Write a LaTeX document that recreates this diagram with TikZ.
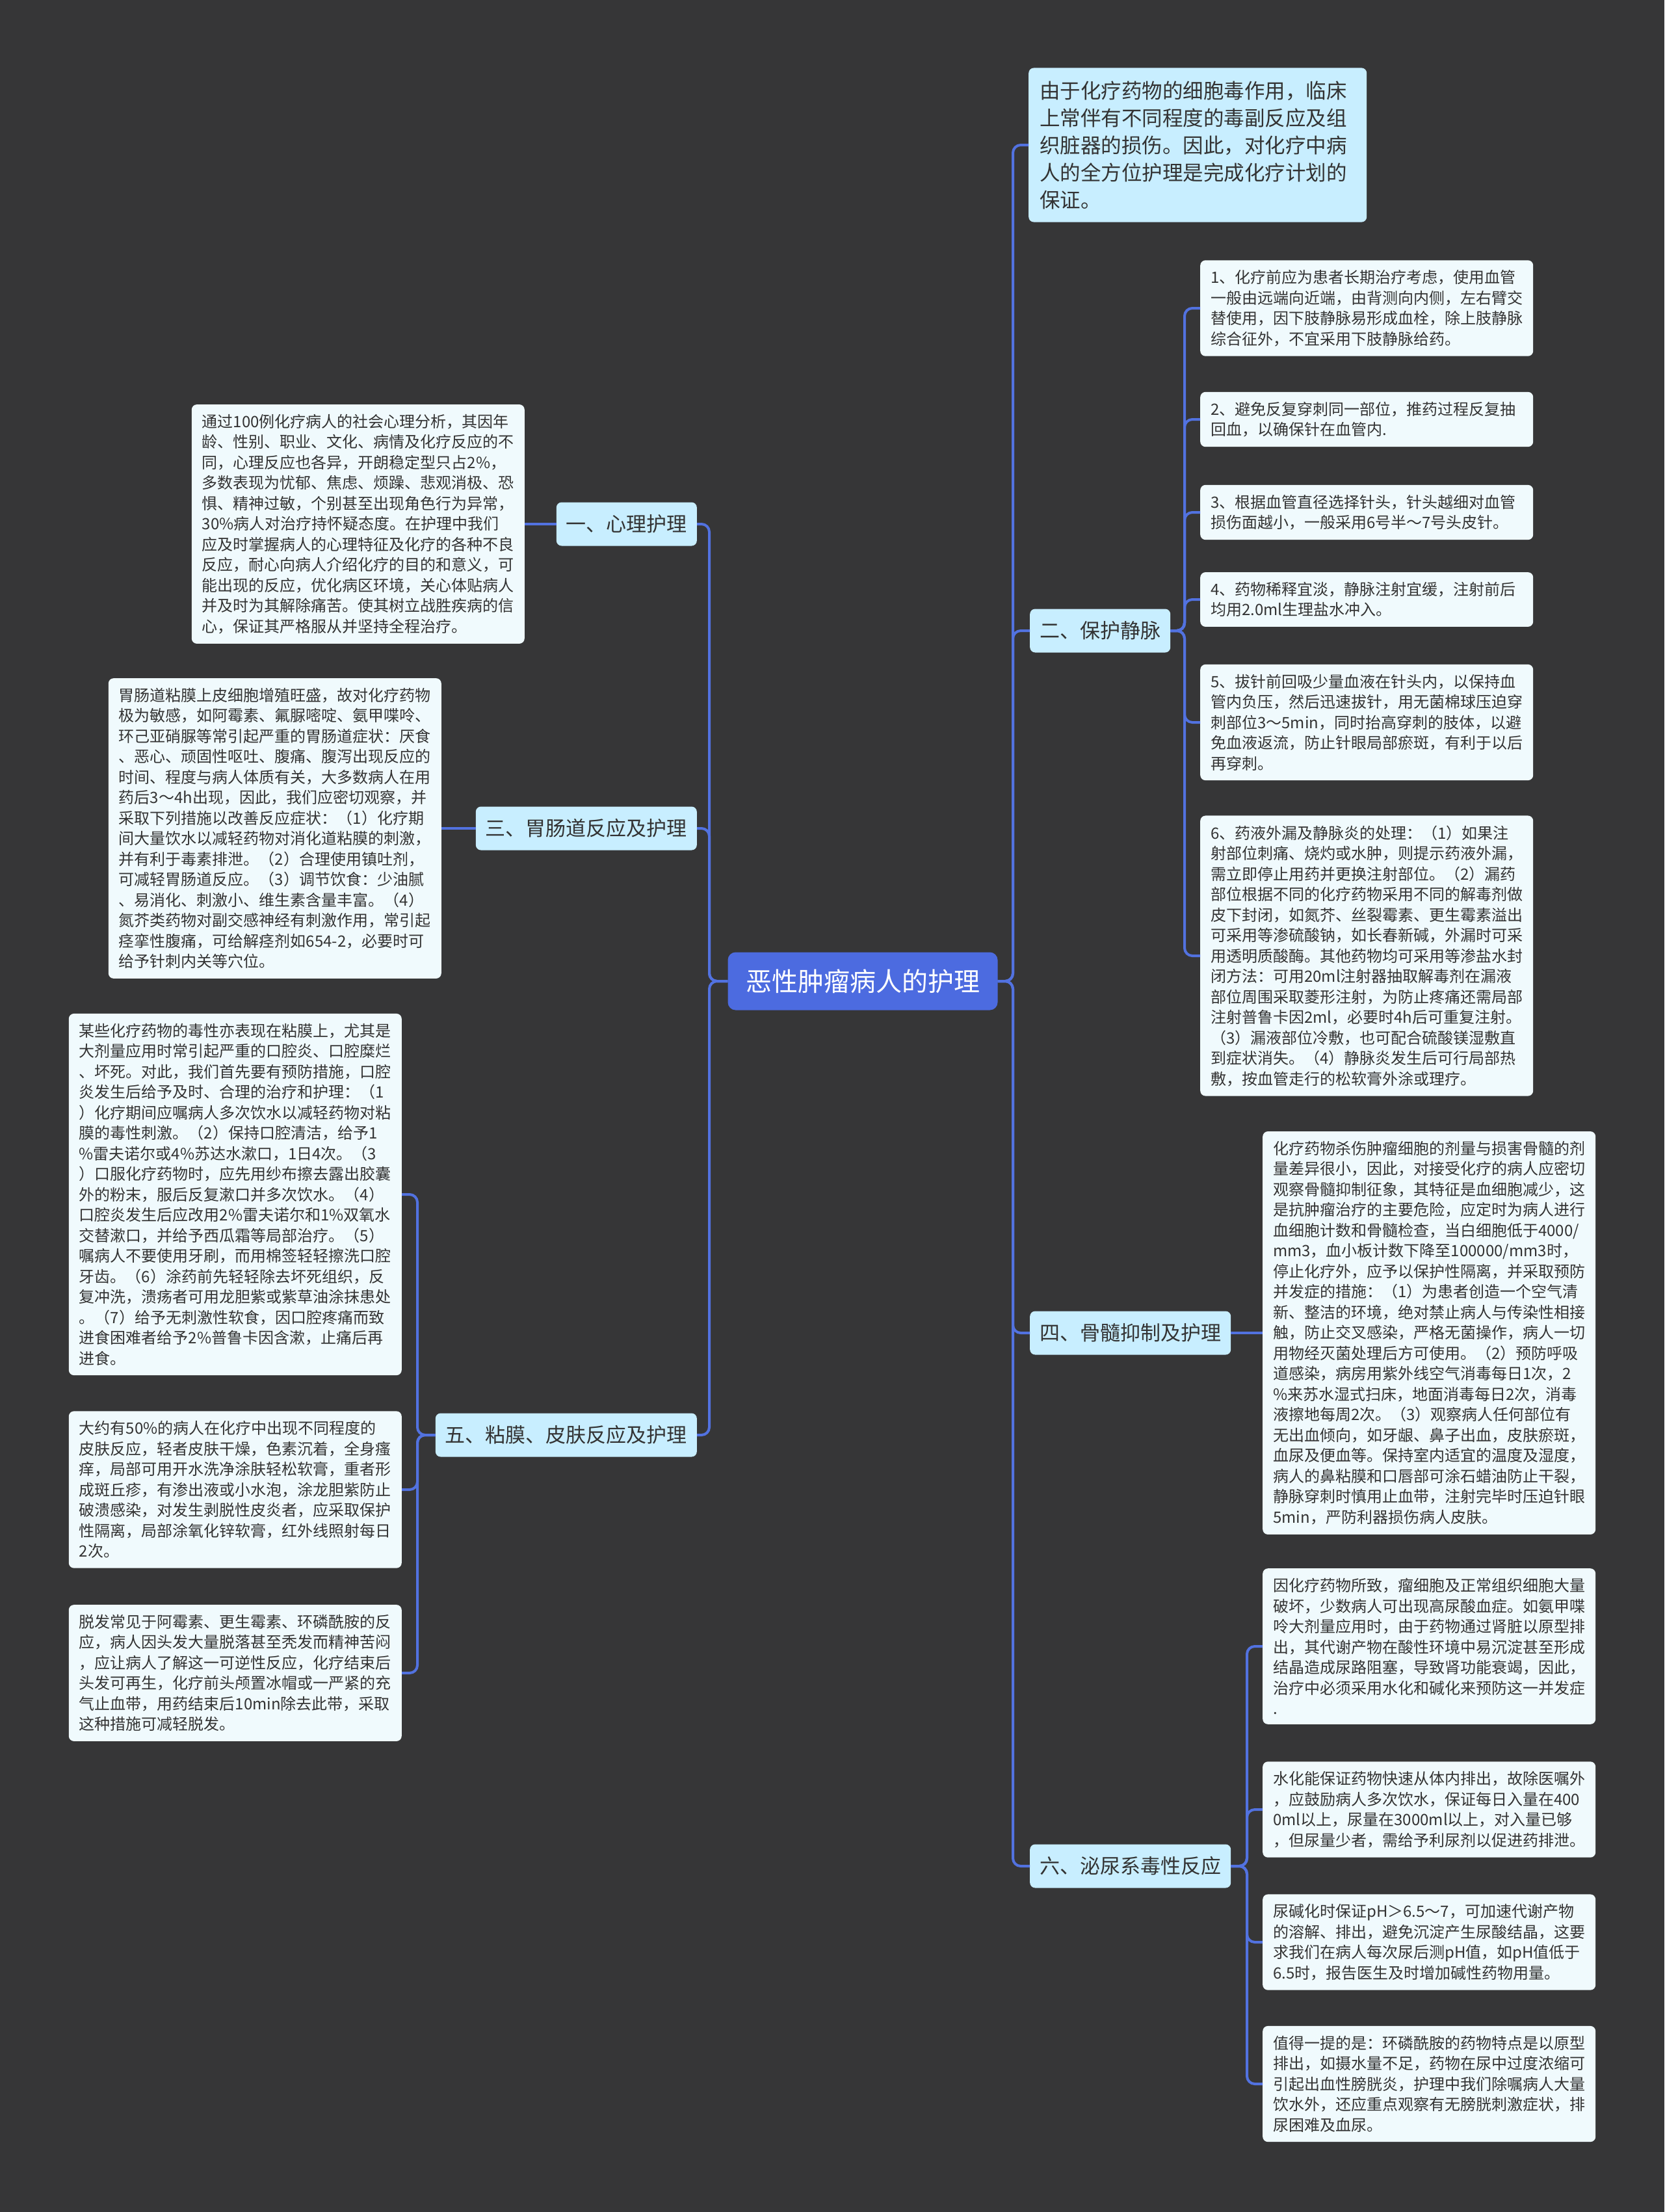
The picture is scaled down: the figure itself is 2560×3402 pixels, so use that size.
\documentclass[tikz,border=0pt]{standalone}
\usepackage{fontspec}
\newfontfamily\cjk{Noto Sans CJK SC}
\usepackage{tikz}
\definecolor{canvas}{HTML}{363637}
\definecolor{linkblue}{HTML}{5272E0}
\definecolor{hubblue}{HTML}{4C6BE0}
\definecolor{topicfill}{HTML}{C8EEFF}
\definecolor{notefill}{HTML}{F0FAFD}
\definecolor{ink}{HTML}{333333}

\begin{document}
\begin{tikzpicture}[x=1pt,y=-1pt,
 hub/.style={fill=hubblue,rounded corners=12pt,text=white,font=\cjk\fontsize{40}{48}\selectfont,minimum width=415pt,minimum height=89pt,inner sep=0pt},
 topic/.style={fill=topicfill,rounded corners=8pt,text=ink,font=\cjk\fontsize{31}{40}\selectfont,minimum height=67pt,inner xsep=15pt,inner ysep=0pt},
 lead/.style={fill=topicfill,rounded corners=8pt,text=ink,align=left,text width=486pt,inner xsep=17pt,inner ysep=20pt,font=\cjk\fontsize{31.5}{42}\selectfont},
 note/.style={fill=notefill,rounded corners=8pt,text=ink,align=left,text width=480pt,inner xsep=16pt,inner ysep=15pt,font=\cjk\fontsize{24}{31.5}\selectfont},
 link/.style={draw=linkblue,line width=4pt,rounded corners=12pt}]
\fill[canvas] (0,0) rectangle (2560,3402);
% trunks
\coordinate (rtrunk) at (1558,0);
\coordinate (ltrunk) at (1091,0);
\coordinate (vtrunk) at (1822,0);
\coordinate (utrunk) at (1918,0);
\coordinate (mtrunk) at (642,0);

\node[hub] (root) at (1327,1509) {恶性肿瘤病人的护理};

% right side
\node[lead,anchor=west] (intro) at (1582,223) {由于化疗药物的细胞毒作用，临床\\上常伴有不同程度的毒副反应及组\\织脏器的损伤。因此，对化疗中病\\人的全方位护理是完成化疗计划的\\保证。};
\node[topic,anchor=west] (vein) at (1584,970) {二、保护静脉};
\node[topic,anchor=west] (marrow) at (1584,2050) {四、骨髓抑制及护理};
\node[topic,anchor=west] (urine) at (1584,2870) {六、泌尿系毒性反应};

\node[note,anchor=west] (vein1) at (1846,474) {1、化疗前应为患者长期治疗考虑，使用血管\\一般由远端向近端，由背测向内侧，左右臂交\\替使用，因下肢静脉易形成血栓，除上肢静脉\\综合征外，不宜采用下肢静脉给药。};
\node[note,anchor=west] (vein2) at (1846,645) {2、避免反复穿刺同一部位，推药过程反复抽\\回血，以确保针在血管内.};
\node[note,anchor=west] (vein3) at (1846,788) {3、根据血管直径选择针头，针头越细对血管\\损伤面越小，一般采用6号半～7号头皮针。};
\node[note,anchor=west] (vein4) at (1846,922) {4、药物稀释宜淡，静脉注射宜缓，注射前后\\均用2.0ml生理盐水冲入。};
\node[note,anchor=west] (vein5) at (1846,1111) {5、拔针前回吸少量血液在针头内，以保持血\\管内负压，然后迅速拔针，用无菌棉球压迫穿\\刺部位3～5min，同时抬高穿刺的肢体，以避\\免血液返流，防止针眼局部瘀斑，有利于以后\\再穿刺。};
\node[note,anchor=west] (vein6) at (1846,1470) {6、药液外漏及静脉炎的处理：（1）如果注\\射部位刺痛、烧灼或水肿，则提示药液外漏，\\需立即停止用药并更换注射部位。（2）漏药\\部位根据不同的化疗药物采用不同的解毒剂做\\皮下封闭，如氮芥、丝裂霉素、更生霉素溢出\\可采用等渗硫酸钠，如长春新碱，外漏时可采\\用透明质酸酶。其他药物均可采用等渗盐水封\\闭方法：可用20ml注射器抽取解毒剂在漏液\\部位周围采取菱形注射，为防止疼痛还需局部\\注射普鲁卡因2ml，必要时4h后可重复注射。\\（3）漏液部位冷敷，也可配合硫酸镁湿敷直\\到症状消失。（4）静脉炎发生后可行局部热\\敷，按血管走行的松软膏外涂或理疗。};

\node[note,anchor=west] (marrownote) at (1942,2050) {化疗药物杀伤肿瘤细胞的剂量与损害骨髓的剂\\量差异很小，因此，对接受化疗的病人应密切\\观察骨髓抑制征象，其特征是血细胞减少，这\\是抗肿瘤治疗的主要危险，应定时为病人进行\\血细胞计数和骨髓检查，当白细胞低于4000/\\mm3，血小板计数下降至100000/mm3时，\\停止化疗外，应予以保护性隔离，并采取预防\\并发症的措施：（1）为患者创造一个空气清\\新、整洁的环境，绝对禁止病人与传染性相接\\触，防止交叉感染，严格无菌操作，病人一切\\用物经灭菌处理后方可使用。（2）预防呼吸\\道感染，病房用紫外线空气消毒每日1次，2\\\%来苏水湿式扫床，地面消毒每日2次，消毒\\液擦地每周2次。（3）观察病人任何部位有\\无出血倾向，如牙龈、鼻子出血，皮肤瘀斑，\\血尿及便血等。保持室内适宜的温度及湿度，\\病人的鼻粘膜和口唇部可涂石蜡油防止干裂，\\静脉穿刺时慎用止血带，注射完毕时压迫针眼\\5min，严防利器损伤病人皮肤。};

\node[note,anchor=west] (urine1) at (1942,2532) {因化疗药物所致，瘤细胞及正常组织细胞大量\\破坏，少数病人可出现高尿酸血症。如氨甲喋\\呤大剂量应用时，由于药物通过肾脏以原型排\\出，其代谢产物在酸性环境中易沉淀甚至形成\\结晶造成尿路阻塞，导致肾功能衰竭，因此，\\治疗中必须采用水化和碱化来预防这一并发症\\.};
\node[note,anchor=west] (urine2) at (1942,2783) {水化能保证药物快速从体内排出，故除医嘱外\\，应鼓励病人多次饮水，保证每日入量在400\\0ml以上，尿量在3000ml以上，对入量已够\\，但尿量少者，需给予利尿剂以促进药排泄。};
\node[note,anchor=west] (urine3) at (1942,2987) {尿碱化时保证pH＞6.5～7，可加速代谢产物\\的溶解、排出，避免沉淀产生尿酸结晶，这要\\求我们在病人每次尿后测pH值，如pH值低于\\6.5时，报告医生及时增加碱性药物用量。};
\node[note,anchor=west] (urine4) at (1942,3205) {值得一提的是：环磷酰胺的药物特点是以原型\\排出，如摄水量不足，药物在尿中过度浓缩可\\引起出血性膀胱炎，护理中我们除嘱病人大量\\饮水外，还应重点观察有无膀胱刺激症状，排\\尿困难及血尿。};

% left side
\node[topic,anchor=east] (psych) at (1072,806) {一、心理护理};
\node[topic,anchor=east] (gut) at (1072,1274) {三、胃肠道反应及护理};
\node[topic,anchor=east] (mucosa) at (1072,2207) {五、粘膜、皮肤反应及护理};

\node[note,anchor=east] (psychnote) at (807,806) {通过100例化疗病人的社会心理分析，其因年\\龄、性别、职业、文化、病情及化疗反应的不\\同，心理反应也各异，开朗稳定型只占2\%，\\多数表现为忧郁、焦虑、烦躁、悲观消极、恐\\惧、精神过敏，个别甚至出现角色行为异常，\\30\%病人对治疗持怀疑态度。在护理中我们\\应及时掌握病人的心理特征及化疗的各种不良\\反应，耐心向病人介绍化疗的目的和意义，可\\能出现的反应，优化病区环境，关心体贴病人\\并及时为其解除痛苦。使其树立战胜疾病的信\\心，保证其严格服从并坚持全程治疗。};
\node[note,anchor=east] (gutnote) at (679,1274) {胃肠道粘膜上皮细胞增殖旺盛，故对化疗药物\\极为敏感，如阿霉素、氟脲嘧啶、氨甲喋呤、\\环己亚硝脲等常引起严重的胃肠道症状：厌食\\、恶心、顽固性呕吐、腹痛、腹泻出现反应的\\时间、程度与病人体质有关，大多数病人在用\\药后3～4h出现，因此，我们应密切观察，并\\采取下列措施以改善反应症状：（1）化疗期\\间大量饮水以减轻药物对消化道粘膜的刺激，\\并有利于毒素排泄。（2）合理使用镇吐剂，\\可减轻胃肠道反应。（3）调节饮食：少油腻\\、易消化、刺激小、维生素含量丰富。（4）\\氮芥类药物对副交感神经有刺激作用，常引起\\痉挛性腹痛，可给解痉剂如654-2，必要时可\\给予针刺内关等穴位。};

\node[note,anchor=east] (mucosa1) at (618,1837) {某些化疗药物的毒性亦表现在粘膜上，尤其是\\大剂量应用时常引起严重的口腔炎、口腔糜烂\\、坏死。对此，我们首先要有预防措施，口腔\\炎发生后给予及时、合理的治疗和护理：（1\\）化疗期间应嘱病人多次饮水以减轻药物对粘\\膜的毒性刺激。（2）保持口腔清洁，给予1\\\%雷夫诺尔或4\%苏达水漱口，1日4次。（3\\）口服化疗药物时，应先用纱布擦去露出胶囊\\外的粉末，服后反复漱口并多次饮水。（4）\\口腔炎发生后应改用2\%雷夫诺尔和1\%双氧水\\交替漱口，并给予西瓜霜等局部治疗。（5）\\嘱病人不要使用牙刷，而用棉签轻轻擦洗口腔\\牙齿。（6）涂药前先轻轻除去坏死组织，反\\复冲洗，溃疡者可用龙胆紫或紫草油涂抹患处\\。（7）给予无刺激性软食，因口腔疼痛而致\\进食困难者给予2\%普鲁卡因含漱，止痛后再\\进食。};
\node[note,anchor=east] (mucosa2) at (618,2291) {大约有50\%的病人在化疗中出现不同程度的\\皮肤反应，轻者皮肤干燥，色素沉着，全身瘙\\痒，局部可用开水洗净涂肤轻松软膏，重者形\\成斑丘疹，有渗出液或小水泡，涂龙胆紫防止\\破溃感染，对发生剥脱性皮炎者，应采取保护\\性隔离，局部涂氧化锌软膏，红外线照射每日\\2次。};
\node[note,anchor=east] (mucosa3) at (618,2573) {脱发常见于阿霉素、更生霉素、环磷酰胺的反\\应，病人因头发大量脱落甚至秃发而精神苦闷\\，应让病人了解这一可逆性反应，化疗结束后\\头发可再生，化疗前头颅置冰帽或一严紧的充\\气止血带，用药结束后10min除去此带，采取\\这种措施可减轻脱发。};

% connectors
\foreach \n in {intro,vein,marrow,urine}
  \draw[link] (root.east) -- (root.east -| rtrunk) |- (\n.west);
\foreach \n in {psych,gut,mucosa}
  \draw[link] (root.west) -- (root.west -| ltrunk) |- (\n.east);
\foreach \i in {1,...,6}
  \draw[link] (vein.east) -- (vein.east -| vtrunk) |- (vein\i.west);
\foreach \i in {1,...,4}
  \draw[link] (urine.east) -- (urine.east -| utrunk) |- (urine\i.west);
\foreach \i in {1,2,3}
  \draw[link] (mucosa.west) -- (mucosa.west -| mtrunk) |- (mucosa\i.east);
\draw[link] (marrow.east) -- (marrownote.west);
\draw[link] (psych.west) -- (psychnote.east);
\draw[link] (gut.west) -- (gutnote.east);
\end{tikzpicture}
\end{document}
